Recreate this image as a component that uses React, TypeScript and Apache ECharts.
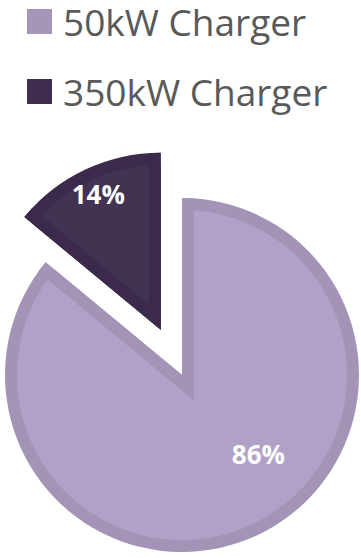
import React, { useEffect, useRef } from "react";
import * as echarts from "echarts";

const categories = ["50kW Charger", "350kW Charger"];
const values = [86, 14];
const explode = [0, 50];
const fillColors = ["#b1a1c7", "#433352"];
const borderColors = ["#a394b7", "#3b2a4b"];
const legendColors = ["#a596b9", "#3f2d50"];
const labelOffsets = [[40, 2], [-26, -58]];

const CX = 182;
const CY = 375;
const R = 177;
const BW = 12;

function dir(phiDeg: number): [number, number] {
  const p = (phiDeg * Math.PI) / 180;
  return [Math.sin(p), -Math.cos(p)];
}

// inner border band along the two straight edges of a slice (miter join)
function edgeBand(px: number, py: number, phi0: number, phi1: number): number[][] {
  const d0 = dir(phi0);
  const d1 = dir(phi1);
  const p0 = (phi0 * Math.PI) / 180;
  const p1 = (phi1 * Math.PI) / 180;
  const n0 = [Math.cos(p0), Math.sin(p0)];
  const n1 = [-Math.cos(p1), -Math.sin(p1)];
  const h = ((phi1 - phi0) / 2) * (Math.PI / 180);
  const um = dir((phi0 + phi1) / 2);
  const k = BW / Math.sin(h);
  const L = Math.sqrt(R * R - BW * BW);
  return [
    [px + R * d0[0], py + R * d0[1]],
    [px, py],
    [px + R * d1[0], py + R * d1[1]],
    [px + L * d1[0] + BW * n1[0], py + L * d1[1] + BW * n1[1]],
    [px + k * um[0], py + k * um[1]],
    [px + L * d0[0] + BW * n0[0], py + L * d0[1] + BW * n0[1]],
  ];
}

export default function App() {
  const ref = useRef<HTMLDivElement>(null);
  useEffect(() => {
    const chart = echarts.init(ref.current!, null, { renderer: "svg" });
    const total = values.reduce((a, b) => a + b, 0);
    const bands: any[] = [];
    const series: any[] = [];
    let acc = 0;
    values.forEach((v, i) => {
      const phi0 = (acc / total) * 360;
      const phi1 = ((acc + v) / total) * 360;
      acc += v;
      const m = dir((phi0 + phi1) / 2);
      const px = CX + explode[i] * m[0];
      const py = CY + explode[i] * m[1];
      bands.push({
        type: "polygon",
        z: 10,
        silent: true,
        shape: { points: edgeBand(px, py, phi0, phi1) },
        style: { fill: borderColors[i] },
      });
      const mk = (colors: string[], withLabel: boolean) =>
        categories.map((name, j) => ({
          name,
          value: values[j],
          itemStyle: { color: j === i ? colors[j] : "rgba(0,0,0,0)", borderWidth: 0 },
          label:
            withLabel && j === i
              ? {
                  show: true,
                  position: "inside",
                  formatter: "{c}%",
                  color: "#ffffff",
                  fontFamily: "Open Sans",
                  fontWeight: "bold",
                  fontSize: 26,
                  offset: labelOffsets[j],
                }
              : { show: false },
        }));
      const base = {
        type: "pie",
        silent: true,
        center: [px, py],
        startAngle: 90,
        clockwise: true,
        selectedMode: false,
        emphasis: { disabled: true },
        labelLine: { show: false },
      };
      series.push({ ...base, z: 1, radius: R, data: mk(borderColors, false) });
      series.push({ ...base, z: 2, radius: R - BW, data: mk(fillColors, true) });
    });

    chart.setOption({
      animation: false,
      legend: {
        orient: "vertical",
        left: 27,
        top: 3,
        padding: 0,
        itemWidth: 25,
        itemHeight: 25,
        itemGap: 33,
        selectedMode: false,
        icon: "rect",
        textStyle: {
          fontFamily: "Open Sans",
          fontSize: 37,
          color: "#595959",
          lineHeight: 34,
          padding: [0, 0, 0, 6],
        },
        data: categories.map((name, i) => ({
          name,
          itemStyle: { color: legendColors[i], borderWidth: 0 },
        })),
      },
      graphic: bands,
      series,
    });
    return () => chart.dispose();
  }, []);
  return (
    <div
      ref={ref}
      style={{ position: "fixed", left: 0, top: 0, width: 361, height: 558, background: "#fff" }}
    />
  );
}
